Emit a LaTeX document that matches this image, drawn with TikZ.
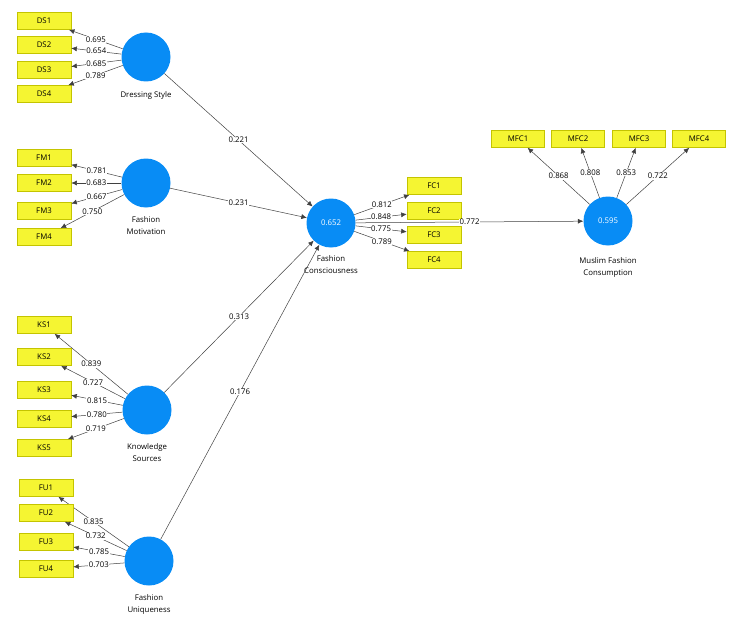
\documentclass[tikz,border=0pt]{standalone}
\usepackage{fontspec}
\setmainfont{Open Sans}
\usetikzlibrary{arrows.meta,positioning}
\definecolor{lvblue}{RGB}{8,140,245}
\definecolor{indyellow}{RGB}{245,245,50}
\definecolor{indedge}{RGB}{196,196,0}
\tikzset{
  lv/.style={circle, fill=lvblue, minimum size=49pt, inner sep=0pt, text=white,
    font=\fontsize{7.8}{9}\selectfont},
  ind/.style={rectangle, fill=indyellow, draw=indedge, line width=0.6pt,
    minimum width=54pt, minimum height=17pt, inner sep=0pt,
    font=\fontsize{7.8}{9}\selectfont},
  lvname/.style={align=center, inner sep=1pt, font=\fontsize{7.8}{12}\selectfont},
  wt/.style={fill=white, inner sep=0.6pt, font=\fontsize{7.8}{9}\selectfont},
  load/.style={-{Latex[length=5.5pt,width=5pt]}, draw=black!75, line width=0.5pt},
}
\begin{document}
\begin{tikzpicture}[x=1pt, y=-1pt]
    \useasboundingbox (0,0) rectangle (737,626);

    % latent variables
    \node[lv] (DS) at (146,57) {};
    \node[lv] (FM) at (146,183) {};
    \node[lv] (KS) at (147,410) {};
    \node[lv] (FU) at (149,561) {};
    \node[lv] (FC) at (331,223) {0.652};
    \node[lv] (MFC) at (608,221) {0.595};

    \node[lvname, below=9pt of DS] (DSname) {Dressing Style};
    \node[lvname, below=8pt of FM] (FMname) {Fashion\\Motivation};
    \node[lvname, below=8pt of KS] (KSname) {Knowledge\\Sources};
    \node[lvname, below=8pt of FU] (FUname) {Fashion\\Uniqueness};
    \node[lvname, below=7pt of FC] (FCname) {Fashion\\Consciousness};
    \node[lvname, below=11pt of MFC] (MFCname) {Muslim Fashion\\Consumption};

    % indicators
    \foreach \i/\y/\w in {1/21/0.695, 2/45/0.654, 3/70/0.685, 4/94/0.789} {
        \node[ind] (DS\i) at (44,\y) {DS\i};
        \draw[load] (DS) -- node[wt] {\w} (DS\i);
    }
    \foreach \i/\y/\w in {1/158/0.781, 2/183/0.683, 3/211/0.667, 4/237/0.750} {
        \node[ind] (FM\i) at (44,\y) {FM\i};
        \draw[load] (FM) -- node[wt] {\w} (FM\i);
    }
    \foreach \i/\y/\w in {1/325/0.839, 2/357/0.727, 3/390/0.815, 4/419/0.780, 5/448/0.719} {
        \node[ind] (KS\i) at (44,\y) {KS\i};
        \draw[load] (KS) -- node[wt] {\w} (KS\i);
    }
    \foreach \i/\y/\w in {1/488/0.835, 2/513/0.732, 3/542/0.785, 4/569/0.703} {
        \node[ind] (FU\i) at (46,\y) {FU\i};
        \draw[load] (FU) -- node[wt] {\w} (FU\i);
    }
    \foreach \i/\y/\w in {1/186/0.812, 2/211/0.848, 3/235/0.775, 4/260/0.789} {
        \node[ind] (FC\i) at (434,\y) {FC\i};
        \draw[load] (FC) -- node[wt] {\w} (FC\i);
    }
    \foreach \i/\x/\w in {1/518/0.868, 2/578/0.808, 3/639/0.853, 4/699/0.722} {
        \node[ind, minimum width=53pt] (MFC\i) at (\x,139) {MFC\i};
        \draw[load] (MFC) -- node[wt] {\w} (MFC\i);
    }

    % inner model
    \draw[load] (DS) -- node[wt] {0.221} (FC);
    \draw[load] (FM) -- node[wt] {0.231} (FC);
    \draw[load] (KS) -- node[wt] {0.313} (FC);
    \draw[load] (FU) -- node[wt] {0.176} (FC);
    \draw[load] (FC) -- node[wt] {0.772} (MFC);
\end{tikzpicture}
\end{document}
